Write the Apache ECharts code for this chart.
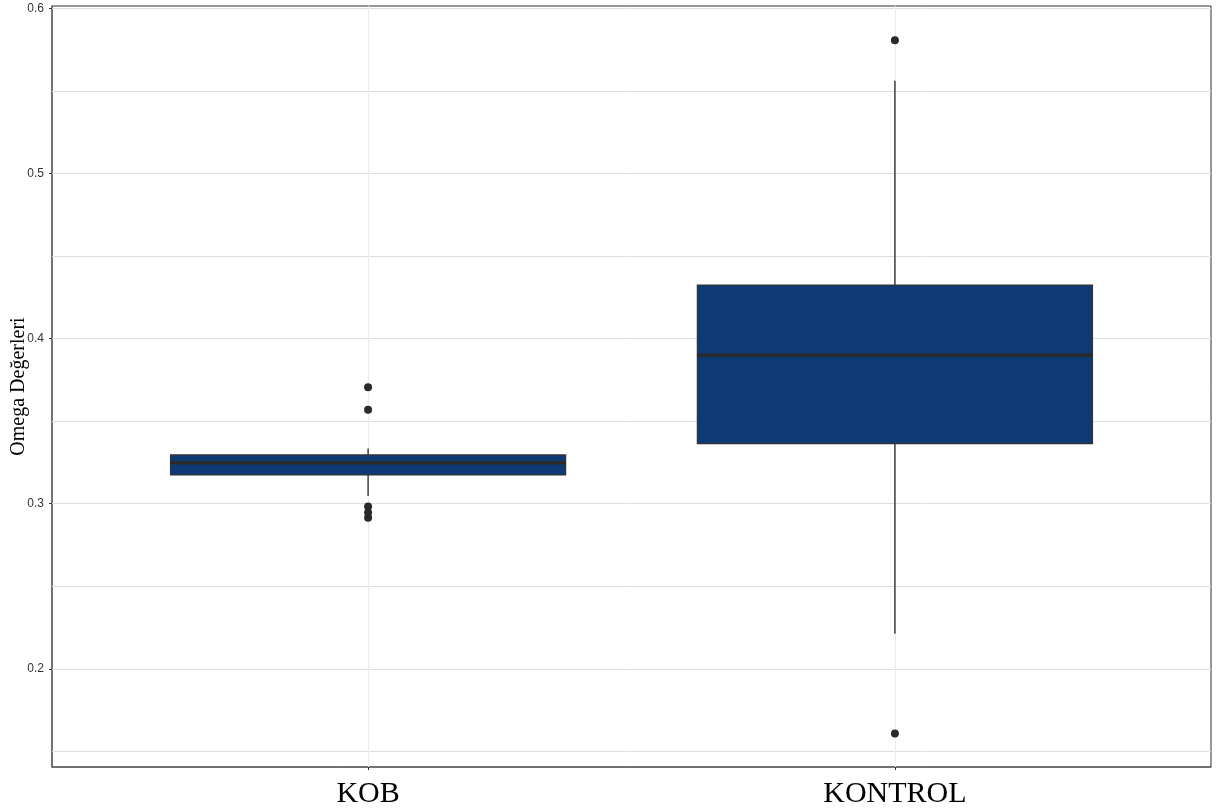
<!DOCTYPE html>
<html>
<head>
<meta charset="utf-8">
<script src="https://cdn.jsdelivr.net/npm/echarts@6/dist/echarts.min.js"></script>
<style>
html,body{margin:0;padding:0;background:#fff;}
#chart{width:1216px;height:809px;}
</style>
</head>
<body>
<div id="chart"></div>
<script>
// Data
const categories = ['KOB', 'KONTROL'];
const categoryPos = [1, 2];
// [lower whisker, Q1, median, Q3, upper whisker]
const boxStats = [
  [0.3047, 0.3174, 0.3247, 0.3295, 0.3334],
  [0.2212, 0.3364, 0.3899, 0.4324, 0.5561]
];
const outliersKOB = [0.3705, 0.3568, 0.2982, 0.2946, 0.2914];
const outliersKONTROL = [0.5806, 0.1608];
const yTicks = [0.2, 0.3, 0.4, 0.5, 0.6];
const yMinorTicks = [0.15, 0.25, 0.35, 0.45, 0.55];

const boxData = boxStats.map((s, i) => [categoryPos[i]].concat(s));
const outlierData = outliersKOB.map(v => [categoryPos[0], v])
  .concat(outliersKONTROL.map(v => [categoryPos[1], v]));

const chart = echarts.init(document.getElementById('chart'), null, {renderer: 'canvas'});

const gridLines = yTicks.concat(yMinorTicks).map(v => ({yAxis: v}))
  .concat(categoryPos.map(x => ({xAxis: x, lineStyle: {color: '#ebebeb'}})));

const option = {
  backgroundColor: '#ffffff',
  animation: false,
  grid: {left: 52, right: 5, top: 6, bottom: 42, containLabel: false, outerBoundsMode: 'none',
    show: true, borderColor: '#333333', borderWidth: 1, backgroundColor: 'transparent'},
  xAxis: {
    type: 'value', min: 0.4, max: 2.6,
    axisLine: {show: true, lineStyle: {color: '#666666', width: 1.5}},
    axisTick: {show: true, length: 3, customValues: categoryPos, lineStyle: {color: '#333333'}},
    axisLabel: {
      customValues: categoryPos,
      formatter: v => categories[Math.round(v) - 1] || '',
      fontFamily: 'Liberation Serif', fontSize: 30, color: '#000000', margin: 12
    },
    splitLine: {show: false}
  },
  yAxis: {
    type: 'value', min: 0.1405, max: 0.6014,
    name: 'Omega Değerleri', nameLocation: 'middle', nameRotate: 90, nameGap: 23,
    nameMoveOverlap: false,
    nameTextStyle: {fontFamily: 'Liberation Serif', fontSize: 20, color: '#000000'},
    axisLine: {show: true, lineStyle: {color: '#666666', width: 1.5}},
    axisTick: {show: true, length: 3, customValues: yTicks, lineStyle: {color: '#333333'}},
    axisLabel: {
      customValues: yTicks,
      formatter: v => String(Math.round(v * 10) / 10),
      fontFamily: 'Liberation Sans', fontSize: 12, color: '#333333', margin: 8
    },
    splitLine: {show: false}
  },
  series: [
    {
      type: 'scatter', data: [], z: 1, silent: true,
      markLine: {
        silent: true, symbol: 'none', animation: false, z: 1,
        label: {show: false},
        lineStyle: {color: '#dedede', width: 1, type: 'solid'},
        emphasis: {disabled: true},
        data: gridLines
      }
    },
    {
      type: 'custom', z: 10,
      data: boxData,
      encode: {x: 0, y: [1, 2, 3, 4, 5]},
      renderItem: function (params, api) {
        const x = api.value(0);
        const lo = api.coord([x, api.value(1)]);
        const q1 = api.coord([x, api.value(2)]);
        const med = api.coord([x, api.value(3)]);
        const q3 = api.coord([x, api.value(4)]);
        const hi = api.coord([x, api.value(5)]);
        const halfW = api.size([0.75, 0])[0] / 2;
        return {
          type: 'group',
          children: [
            {type: 'line', shape: {x1: lo[0], y1: lo[1], x2: q1[0], y2: q1[1]}, style: {stroke: '#333333', lineWidth: 1.4}},
            {type: 'line', shape: {x1: q3[0], y1: q3[1], x2: hi[0], y2: hi[1]}, style: {stroke: '#333333', lineWidth: 1.4}},
            {type: 'rect', shape: {x: q3[0] - halfW, y: q3[1], width: halfW * 2, height: q1[1] - q3[1]},
              style: {fill: '#0d3975', stroke: '#333333', lineWidth: 1.2}},
            {type: 'line', shape: {x1: med[0] - halfW, y1: med[1], x2: med[0] + halfW, y2: med[1]},
              style: {stroke: '#2a2a2a', lineWidth: 3.5}}
          ]
        };
      }
    },
    {
      type: 'scatter', z: 11,
      data: outlierData,
      symbol: 'circle', symbolSize: 8,
      itemStyle: {color: '#2a2a2a', opacity: 1}
    }
  ]
};
chart.setOption(option);
</script>
</body>
</html>
